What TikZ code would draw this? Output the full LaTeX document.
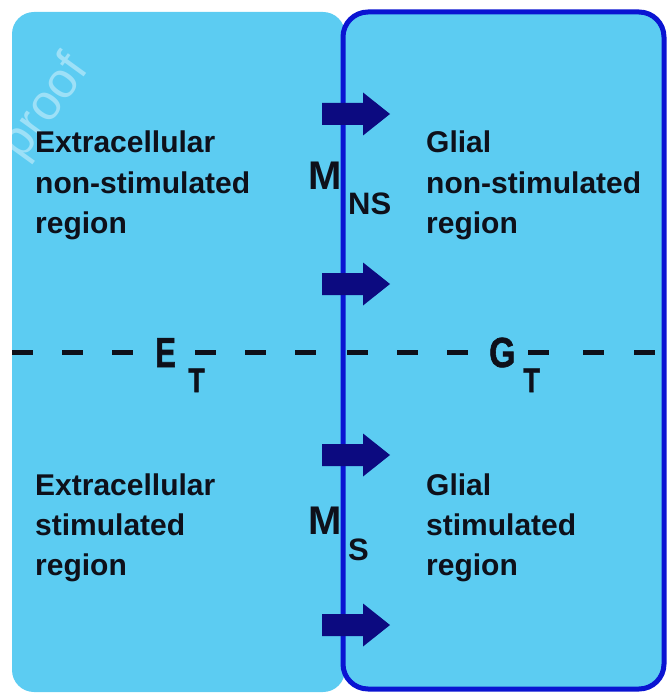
\documentclass[tikz,border=0pt]{standalone}
\usepackage{fontspec}
\setmainfont{Liberation Sans}
\newfontfamily\heavyfont[FakeBold=1.6]{Liberation Sans Bold}
\definecolor{cellfill}{RGB}{92,204,242}
\definecolor{membrane}{RGB}{10,20,210}
\definecolor{navyarrow}{RGB}{12,10,128}
\definecolor{ink}{RGB}{14,16,26}
\begin{document}
\begin{tikzpicture}[x=1pt,y=-1pt,
  region/.style={inner sep=0pt, anchor=base west, text=ink, font=\fontsize{30}{36}\selectfont\bfseries},
  bigletter/.style={inner sep=0pt, anchor=base west, text=ink, font=\fontsize{40}{44}\selectfont\bfseries},
  subletter/.style={inner sep=0pt, anchor=base west, text=ink, font=\fontsize{31}{36}\selectfont\bfseries},
  narrowbig/.style={inner sep=0pt, anchor=base west, text=ink, font=\fontsize{42}{46}\selectfont\heavyfont},
  narrowsub/.style={inner sep=0pt, anchor=base west, text=ink, font=\fontsize{34}{38}\selectfont\heavyfont},
  dashseg/.style={ink, line width=5pt},
  fluxarrow/.style={fill=navyarrow}
]
\useasboundingbox (0,0) rectangle (668,695);
% compartments
\fill[cellfill, rounded corners=22pt] (12,12) rectangle (345,692);
\fill[cellfill, rounded corners=25pt] (343,12) rectangle (664,689);
% watermark
\node[rotate=54, text=white, opacity=0.4, inner sep=0pt, font=\fontsize{50}{50}\selectfont] (wm) at (46,108) {proof};
% dashed separator
\foreach \a in {12,62,112,195,245,295,347,397,447,528,583,634}
  \draw[dashseg] (\a,352) -- ++(21,0);
% membrane border
\draw[membrane, line width=5pt, rounded corners=25pt] (343,12) rectangle (664,689);
% flux arrows
\foreach \c in {114,284,455,625}
  \fill[fluxarrow] (322,\c-11) -- (363,\c-11) -- (363,\c-21.5) -- (390,\c) -- (363,\c+21.5) -- (363,\c+11) -- (322,\c+11) -- cycle;
% texts
\node[region] (ens1) at (35,153) {Extracellular};
\node[region] (ens2) at (35,193) {non-stimulated};
\node[region] (ens3) at (35,233) {region};
\node[region] (gns1) at (426,153) {Glial};
\node[region] (gns2) at (426,193) {non-stimulated};
\node[region] (gns3) at (426,233) {region};
\node[region] (es1) at (35,495) {Extracellular};
\node[region] (es2) at (35,535) {stimulated};
\node[region] (es3) at (35,575) {region};
\node[region] (gs1) at (426,495) {Glial};
\node[region] (gs2) at (426,535) {stimulated};
\node[region] (gs3) at (426,575) {region};
\node[bigletter] (mns) at (308,189) {M};
\node[subletter] (mnssub) at (348,214) {NS};
\node[bigletter] (ms) at (308,534) {M};
\node[subletter] (mssub) at (348,560) {S};
\node[narrowbig] (et) at (155,367) {\scalebox{0.74}[1]{E}};
\node[narrowsub] (etsub) at (188,392) {\scalebox{0.8}[1]{T}};
\node[narrowbig] (gt) at (489,367) {\scalebox{0.8}[1]{G}};
\node[narrowsub] (gtsub) at (523,392) {\scalebox{0.8}[1]{T}};
\end{tikzpicture}
\end{document}
